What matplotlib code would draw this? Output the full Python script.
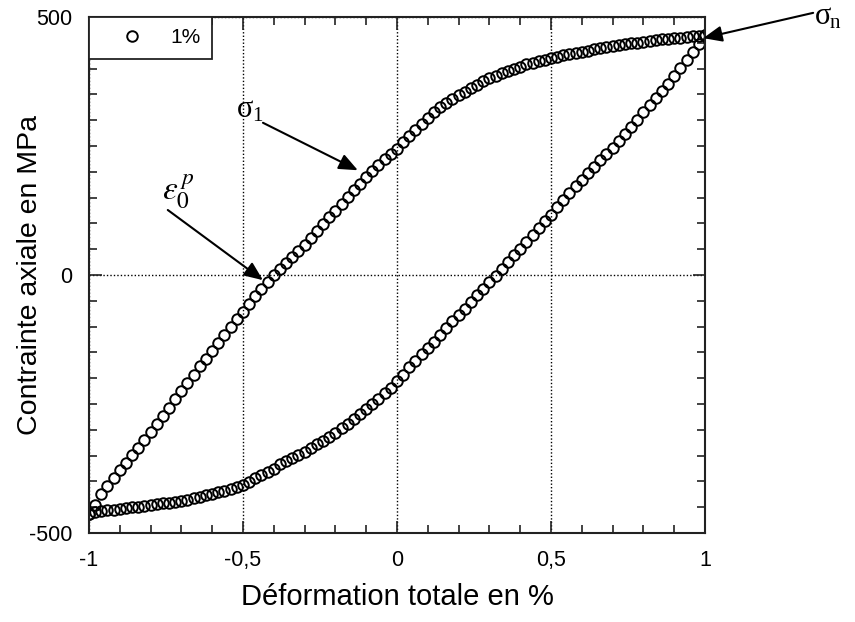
import matplotlib
matplotlib.use("Agg")
import matplotlib.pyplot as plt
from matplotlib.ticker import MultipleLocator, FixedLocator

plt.rcParams["font.family"] = ["Liberation Sans", "DejaVu Sans"]
plt.rcParams["mathtext.fontset"] = "stix"

# Strain grid (total strain, %) used by both branches of the loop
strain = [-1.00, -0.98, -0.96, -0.94, -0.92, -0.90, -0.88, -0.86, -0.84, -0.82,
          -0.80, -0.78, -0.76, -0.74, -0.72, -0.70, -0.68, -0.66, -0.64, -0.62,
          -0.60, -0.58, -0.56, -0.54, -0.52, -0.50, -0.48, -0.46, -0.44, -0.42,
          -0.40, -0.38, -0.36, -0.34, -0.32, -0.30, -0.28, -0.26, -0.24, -0.22,
          -0.20, -0.18, -0.16, -0.14, -0.12, -0.10, -0.08, -0.06, -0.04, -0.02,
          0.00, 0.02, 0.04, 0.06, 0.08, 0.10, 0.12, 0.14, 0.16, 0.18,
          0.20, 0.22, 0.24, 0.26, 0.28, 0.30, 0.32, 0.34, 0.36, 0.38,
          0.40, 0.42, 0.44, 0.46, 0.48, 0.50, 0.52, 0.54, 0.56, 0.58,
          0.60, 0.62, 0.64, 0.66, 0.68, 0.70, 0.72, 0.74, 0.76, 0.78,
          0.80, 0.82, 0.84, 0.86, 0.88, 0.90, 0.92, 0.94, 0.96, 0.98, 1.00]

# Tensile (loading) branch, stress in MPa
stress_up = [-463, -445, -425, -408, -393, -378, -364, -349, -335, -320,
             -305, -289, -273, -257, -241, -225, -209, -193, -177, -162,
             -147, -132, -117, -101, -86, -71, -56, -41, -27, -13,
             0, 12, 24, 35, 47, 59, 72, 85, 99, 112,
             125, 138, 151, 164, 177, 190, 202, 214, 225, 235,
             245, 257, 269, 281, 293, 305, 315, 325, 333, 341,
             348, 355, 362, 368, 375, 381, 386, 391, 395, 400,
             404, 408, 411, 414, 417, 420, 423, 426, 428, 431,
             433, 435, 438, 440, 442, 444, 446, 447, 449, 450,
             452, 454, 455, 457, 458, 459, 460, 461, 463, 464, 465]

# Compressive (unloading) branch, stress in MPa
stress_down = [-463, -460, -458, -456, -455, -453, -452, -450, -449, -448,
               -446, -444, -442, -441, -439, -437, -435, -433, -430, -427,
               -424, -421, -418, -414, -411, -407, -401, -394, -388, -381,
               -375, -367, -361, -355, -349, -342, -335, -328, -321, -314,
               -306, -297, -288, -279, -270, -260, -250, -240, -229, -218,
               -206, -193, -179, -166, -154, -141, -129, -116, -103, -90,
               -77, -65, -52, -39, -27, -14, -1, 12, 25, 38,
               51, 64, 78, 91, 104, 117, 131, 145, 159, 172,
               185, 197, 210, 222, 234, 246, 259, 273, 287, 301,
               315, 329, 343, 357, 371, 386, 401, 416, 432, 448, 465]

x_ticks = [-1, -0.5, 0, 0.5, 1]
x_tick_labels = ["-1", "-0,5", "0", "0,5", "1"]
y_ticks = [-500, 0, 500]
y_tick_labels = ["-500", "0", "500"]

fig = plt.figure(figsize=(8.55, 6.22), dpi=100)
ax = fig.add_axes([0.104, 0.143, 0.7206, 0.8297])

marker_style = dict(linestyle="none", marker="o", markersize=7.6,
                    markerfacecolor="none", markeredgecolor="black",
                    markeredgewidth=1.4)
ax.plot(strain, stress_up, label="1%", **marker_style)
ax.plot(strain[::-1], stress_down[::-1], **marker_style)

ax.set_xlim(-1, 1)
ax.set_ylim(-500, 500)
ax.xaxis.set_major_locator(FixedLocator(x_ticks))
ax.set_xticklabels(x_tick_labels)
ax.yaxis.set_major_locator(FixedLocator(y_ticks))
ax.set_yticklabels(y_tick_labels)
ax.xaxis.set_minor_locator(MultipleLocator(0.1))
ax.yaxis.set_minor_locator(MultipleLocator(50))
ax.tick_params(which="both", direction="in", top=True, right=True,
               colors="#222222", labelcolor="black")
ax.tick_params(which="major", length=9, width=1.2, labelsize=15.5)
ax.tick_params(axis="x", which="major", pad=12)
ax.tick_params(axis="y", which="major", pad=12)
ax.tick_params(which="minor", length=6, width=1.2)
for sp in ax.spines.values():
    sp.set_linewidth(1.5)
    sp.set_color("#222222")

ax.grid(True, which="major", linestyle=(0, (1, 1.5)), color="black", linewidth=1.0)

ax.set_xlabel("Déformation totale en %", fontsize=21, labelpad=9)
ax.set_ylabel("Contrainte axiale en MPa", fontsize=20.5)
ax.yaxis.set_label_coords(-0.074, 0.5)

leg = ax.legend(loc="upper left", borderaxespad=0, fancybox=False,
                edgecolor="#222222", fontsize=15, borderpad=0.55,
                handlelength=3.0, handletextpad=0.35, framealpha=1)
leg.get_frame().set_linewidth(1.3)

arrow = dict(arrowstyle="-|>,head_length=0.95,head_width=0.4", color="black",
             lw=1.5, shrinkA=0, shrinkB=0, mutation_scale=12)
serif = dict(family=["Liberation Serif", "DejaVu Serif"], color="black")

# sigma_n: peak stress of the cycle
ax.annotate("", xy=(0.994, 459), xytext=(1.351, 508), annotation_clip=False,
            arrowprops=arrow)
ax.text(1.383, 500, "σ", fontsize=22, ha="center", va="center",
        clip_on=False, **serif)
ax.text(1.405, 488, "n", fontsize=15, ha="left", va="center",
        clip_on=False, **serif)

# sigma_1 on the loading branch
ax.annotate("", xy=(-0.127, 203), xytext=(-0.435, 295), arrowprops=arrow)
ax.text(-0.494, 320, "σ", fontsize=22, ha="center", va="center", **serif)
ax.text(-0.470, 308, "1", fontsize=15, ha="left", va="center", **serif)

# plastic strain at zero stress
ax.annotate("", xy=(-0.435, -10), xytext=(-0.744, 126), arrowprops=arrow)
ax.text(-0.71, 162, r"$\varepsilon_0^{\,p}$", fontsize=24,
        ha="center", va="center")

fig.savefig("out.png", dpi=100)
